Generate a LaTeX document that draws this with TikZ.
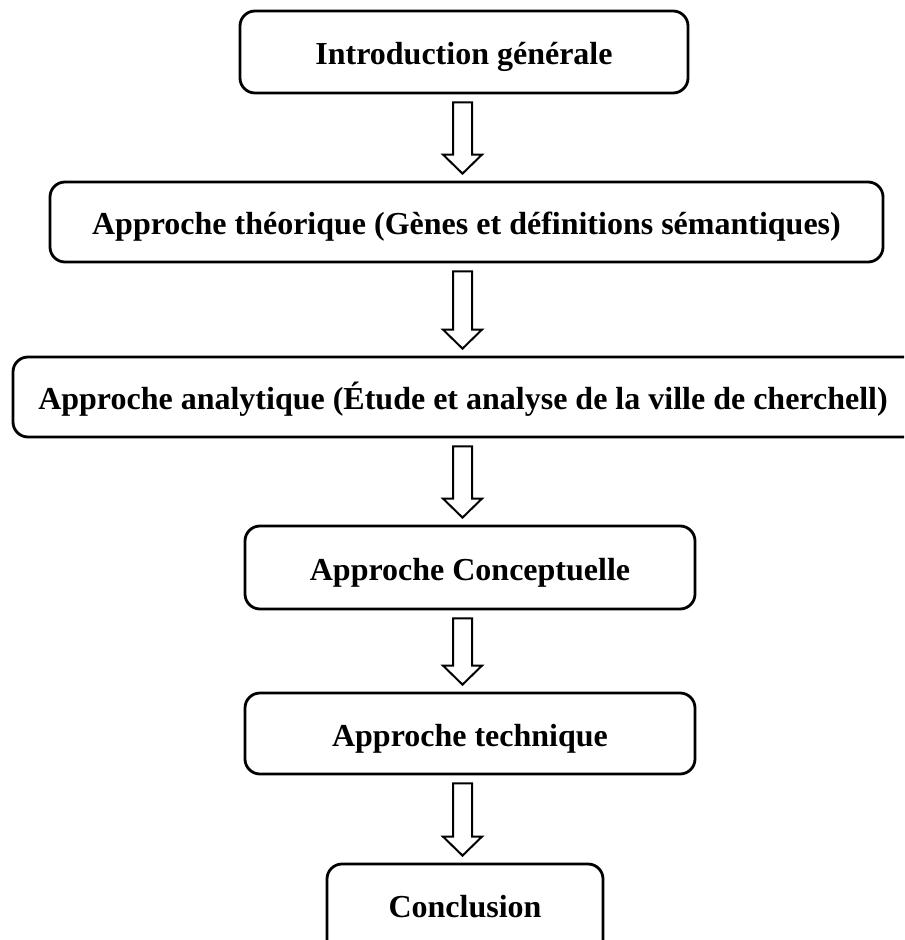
\documentclass[tikz,border=0pt]{standalone}
\usepackage{fontspec}
\setmainfont{Liberation Serif}
\usetikzlibrary{calc}
\tikzset{
  stagebox/.style={draw, line width=1.4pt, rounded corners=7.5pt, inner sep=0pt,
    font=\fontsize{16}{19}\selectfont\bfseries, align=center,
    text height=12.5pt, text depth=0pt},
  barrow/.style={draw, line width=1pt, fill=white, line join=miter}
}
\newcommand{\flowarrow}[2]{%
  \draw[barrow] let \p1=(#1.south), \p2=(#2.north) in
   (226.5pt,\y1-4pt) -- (236pt,\y1-4pt) -- (236pt,\y2+13pt) -- (241pt,\y2+13pt)
   -- (231.25pt,\y2+3.5pt) -- (221.5pt,\y2+13pt) -- (226.5pt,\y2+13pt) -- cycle;}
\begin{document}
\begin{tikzpicture}[x=0.5pt,y=-0.5pt]
\useasboundingbox (0,0) rectangle (904,940);
\clip (0,0) rectangle (904,940);
\node[stagebox, minimum width=224pt, minimum height=41pt] (b1) at (464,52) {Introduction générale};
\node[stagebox, minimum width=416.5pt, minimum height=40pt] (b2) at (466.5,222) {Approche théorique (Gènes et définitions sémantiques)};
\node[stagebox, minimum width=456pt, minimum height=40pt] (b3) at (469,397) {\hspace*{-6pt}Approche analytique (Étude et analyse de la ville de cherchell)};
\node[stagebox, minimum width=225pt, minimum height=41.5pt] (b4) at (470,567.5) {Approche Conceptuelle};
\node[stagebox, minimum width=225pt, minimum height=40.5pt] (b5) at (470,733.5) {Approche technique};
\node[stagebox, minimum width=138pt, minimum height=48pt, text height=5pt] (b6) at (465,912) {Conclusion};
\flowarrow{b1}{b2}
\flowarrow{b2}{b3}
\flowarrow{b3}{b4}
\flowarrow{b4}{b5}
\flowarrow{b5}{b6}
\end{tikzpicture}
\end{document}
